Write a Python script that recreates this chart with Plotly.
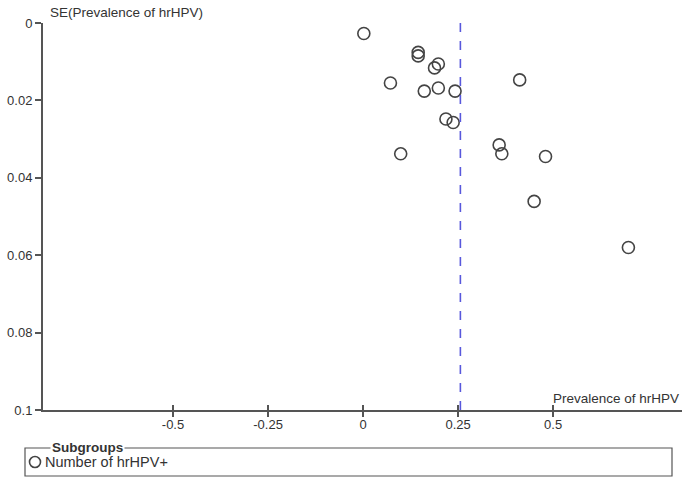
import plotly.graph_objects as go

# Data
prevalence = [0.002, 0.145, 0.145, 0.198, 0.188, 0.412, 0.072, 0.161, 0.198,
              0.242, 0.218, 0.237, 0.099, 0.358, 0.365, 0.480, 0.450, 0.698]
se_prevalence = [0.0027, 0.0076, 0.0085, 0.0106, 0.0116, 0.0147, 0.0155, 0.0176, 0.0168,
                 0.0176, 0.0248, 0.0257, 0.0338, 0.0315, 0.0338, 0.0345, 0.0461, 0.0580]
pooled_estimate = 0.256
x_ticks = [-0.5, -0.25, 0, 0.25, 0.5]
x_tick_labels = ["-0.5", "-0.25", "0", "0.25", "0.5"]
y_ticks = [0, 0.02, 0.04, 0.06, 0.08, 0.1]
y_tick_labels = ["0", "0.02", "0.04", "0.06", "0.08", "0.1"]
series_name = "Number of hrHPV+"

FONT = "Liberation Sans, Arial, sans-serif"
W, H = 682, 479
ML, MR, MT, MB = 43, 0, 23, 69
PW, PH = W - ML - MR, H - MT - MB

def px_x(p):
    return (p - ML) / PW

def px_y(p):
    return (H - MB - p) / PH

fig = go.Figure()
fig.add_trace(go.Scatter(
    x=prevalence, y=se_prevalence, mode="markers", name=series_name,
    marker=dict(symbol="circle-open", size=12, color="#444444", line=dict(width=1.6)),
    cliponaxis=False, showlegend=False,
))

xrange = [-0.842, 0.839]
fig.update_layout(
    width=W, height=H,
    margin=dict(l=ML, r=MR, t=MT, b=MB, autoexpand=False),
    paper_bgcolor="white", plot_bgcolor="white",
    font=dict(family=FONT, size=13, color="#333333"),
    showlegend=False,
    xaxis=dict(range=xrange, showgrid=False, zeroline=False, automargin=False,
               showline=True, linecolor="#555555", linewidth=2,
               tickvals=x_ticks, ticktext=x_tick_labels,
               ticks="outside", ticklen=5, tickwidth=1.5, tickcolor="#555555",
               ticklabelstandoff=-4,
               tickfont=dict(family=FONT, size=13, color="#333333")),
    xaxis2=dict(range=xrange, overlaying="x", showgrid=False, zeroline=False,
                showline=False, tickvals=x_ticks, showticklabels=False, automargin=False,
                ticks="inside", ticklen=5, tickwidth=1.5, tickcolor="#555555",
                side="bottom", anchor="y"),
    yaxis=dict(range=[0.1, 0], showgrid=False, zeroline=False, automargin=False,
               showline=True, linecolor="#555555", linewidth=2,
               tickvals=y_ticks, ticktext=y_tick_labels,
               ticks="outside", ticklen=6, tickwidth=1.5, tickcolor="#555555",
               tickfont=dict(family=FONT, size=13, color="#333333")),
)

# dummy trace to activate xaxis2 ticks
fig.add_trace(go.Scatter(x=[None], y=[None], xaxis="x2", showlegend=False, hoverinfo="skip"))

# pooled estimate line
fig.add_shape(type="line", xref="x", yref="paper", x0=pooled_estimate, x1=pooled_estimate,
              y0=0, y1=1.01, line=dict(color="#5858dc", width=1.6, dash="dash"))

# legend frame
fig.add_shape(type="rect", xref="paper", yref="paper",
              x0=px_x(25), x1=px_x(672), y0=px_y(476), y1=px_y(448),
              line=dict(color="#555555", width=1.2), fillcolor="rgba(0,0,0,0)")

fig.add_annotation(xref="paper", yref="paper", x=px_x(50), y=px_y(447),
                   text="<b>Subgroups</b>", showarrow=False, xanchor="left", yanchor="middle",
                   bgcolor="white", borderpad=1,
                   font=dict(family=FONT, size=13.5, color="#333333"))

# legend item: marker symbol + label
fig.add_shape(type="circle", xref="paper", yref="paper",
              xsizemode="pixel", ysizemode="pixel",
              xanchor=px_x(35), yanchor=px_y(462),
              x0=-5.5, x1=5.5, y0=-5.5, y1=5.5,
              line=dict(color="#444444", width=1.6))
fig.add_annotation(xref="paper", yref="paper", x=px_x(43), y=px_y(462),
                   text=series_name, showarrow=False, xanchor="left", yanchor="middle",
                   font=dict(family=FONT, size=14.5, color="#333333"))

# axis titles
fig.add_annotation(xref="paper", yref="paper", x=px_x(48), y=px_y(12),
                   text="SE(Prevalence of hrHPV)", showarrow=False, xanchor="left", yanchor="middle",
                   font=dict(family=FONT, size=13.5, color="#333333"))
fig.add_annotation(xref="paper", yref="paper", x=px_x(681), y=px_y(398),
                   text="Prevalence of hrHPV", showarrow=False, xanchor="right", yanchor="middle",
                   font=dict(family=FONT, size=13.5, color="#333333"))

fig.write_html("out.html", config={"displayModeBar": False},
               post_script="document.body.style.margin='0px';")
